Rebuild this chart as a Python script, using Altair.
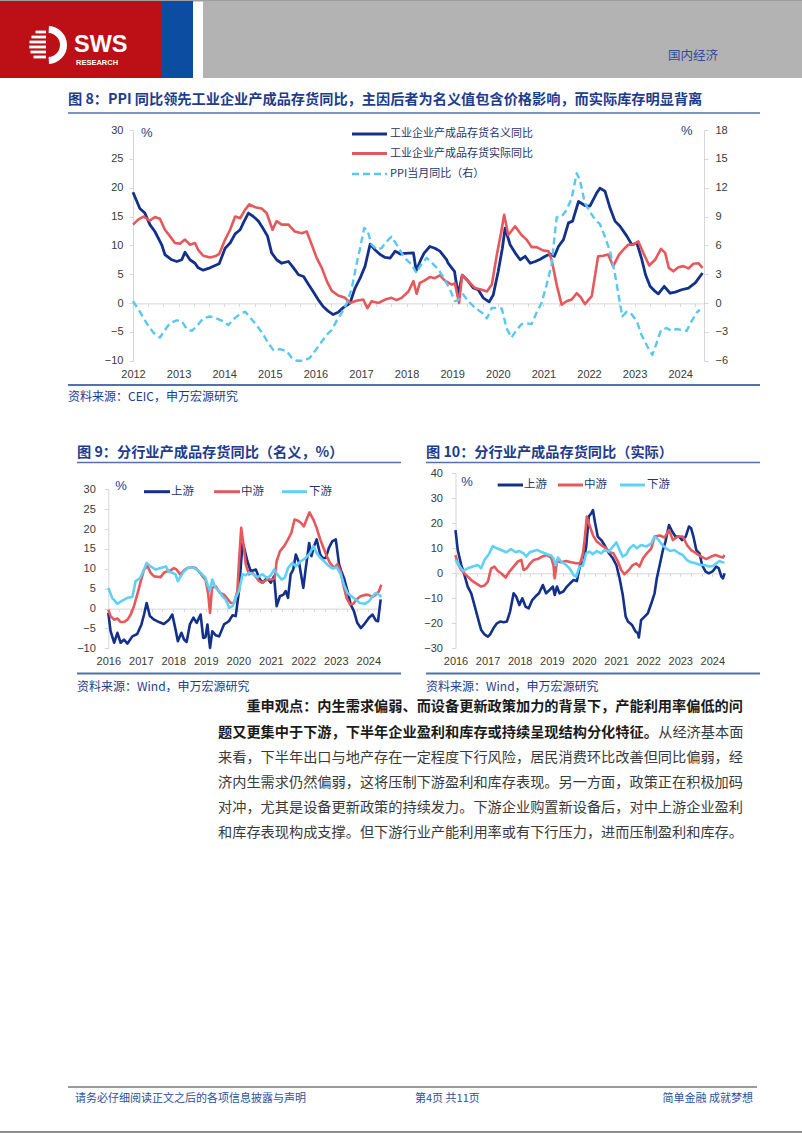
import altair as alt
import pandas as pd

W, H = 802, 1133
CJK = "Noto Sans CJK SC"
LAT = "Liberation Sans"

NAVY = "#13308A"
RED = "#E5585B"
SKY = "#5AC7F0"
CYAN = "#5FD0F6"
BLUE_TXT = "#1D3C8C"
LEG_TXT = "#24366E"
RULE_BLUE = "#5470AE"
AX = "#D6D6D6"
LBL = "#3A3A3A"

# ---------------- Figure 8 data (left axis: %, right axis: PPI %) ----------------
NOM_T = [2012.00, 2012.15, 2012.26, 2012.37, 2012.48, 2012.63, 2012.70, 2012.85, 2012.96,
         2013.07, 2013.14, 2013.25, 2013.36, 2013.43, 2013.54, 2013.69, 2013.80, 2013.89,
         2014.02, 2014.13, 2014.24, 2014.35, 2014.42, 2014.53, 2014.64, 2014.75, 2014.84, 2014.95,
         2015.04, 2015.15, 2015.26, 2015.41, 2015.52, 2015.63, 2015.74, 2015.85, 2015.95,
         2016.06, 2016.17, 2016.28, 2016.39, 2016.50, 2016.61, 2016.76, 2016.87, 2016.98,
         2017.09, 2017.20, 2017.31, 2017.42, 2017.53, 2017.64, 2017.75, 2017.86, 2017.96,
         2018.15, 2018.21, 2018.30, 2018.38, 2018.51, 2018.62, 2018.73, 2018.88, 2018.91, 2018.99,
         2019.05, 2019.13, 2019.22, 2019.35, 2019.46, 2019.57, 2019.68, 2019.81, 2019.90,
         2020.01, 2020.10, 2020.16, 2020.27, 2020.38, 2020.49, 2020.60, 2020.71, 2020.82, 2020.93,
         2021.04, 2021.15, 2021.24, 2021.33, 2021.44, 2021.55, 2021.64, 2021.77, 2021.91,
         2022.02, 2022.17, 2022.24, 2022.35, 2022.46, 2022.57, 2022.68, 2022.83, 2022.94,
         2023.05, 2023.15, 2023.24, 2023.34, 2023.45, 2023.52, 2023.65, 2023.78, 2023.89,
         2024.03, 2024.18, 2024.33, 2024.49]
NOM_V = [19.2, 16.4, 15.6, 13.6, 12.4, 10.1, 8.4, 7.5, 7.2,
         7.5, 8.8, 7.5, 6.9, 6.1, 5.7, 6.1, 6.5, 6.8,
         9.5, 10.4, 12.0, 12.7, 13.9, 15.6, 15.0, 14.2, 13.1, 11.6,
         8.7, 7.5, 6.9, 7.2, 6.1, 4.9, 4.6, 3.2, 2.0,
         0.6, -0.6, -1.4, -2.0, -1.6, -0.8, 0.0, 2.6, 4.3,
         6.4, 10.2, 9.2, 8.4, 7.9, 7.8, 9.0, 8.5, 8.6,
         8.7, 5.6, 7.3, 8.6, 9.8, 9.5, 9.0, 7.5, 6.9, 6.1,
         5.5, 1.4, 4.8, 3.8, 2.6, 2.3, 0.9, 0.2, 1.4,
         5.5, 9.5, 13.0, 10.1, 8.7, 7.5, 8.1, 6.9, 7.2, 7.6,
         8.1, 8.5, 8.1, 9.8, 11.0, 13.9, 14.2, 17.6, 16.9,
         16.8, 19.1, 19.9, 19.4, 16.5, 14.2, 13.3, 11.6, 10.1,
         10.4, 7.8, 4.9, 2.9, 2.0, 1.6, 2.9, 1.7, 1.9,
         2.3, 2.6, 3.5, 5.2]

REAL_T = [2012.00, 2012.12, 2012.23, 2012.37, 2012.48, 2012.59, 2012.70, 2012.81, 2012.92,
          2013.03, 2013.14, 2013.25, 2013.36, 2013.43, 2013.54, 2013.69, 2013.80, 2013.89,
          2014.02, 2014.13, 2014.24, 2014.35, 2014.46, 2014.55, 2014.68, 2014.82, 2014.93,
          2015.06, 2015.15, 2015.26, 2015.41, 2015.55, 2015.70, 2015.81, 2015.92,
          2016.03, 2016.14, 2016.25, 2016.36, 2016.50, 2016.65, 2016.76, 2016.90,
          2017.05, 2017.14, 2017.23, 2017.38, 2017.53, 2017.67, 2017.78, 2017.89,
          2018.04, 2018.15, 2018.22, 2018.29, 2018.37, 2018.51, 2018.62, 2018.73, 2018.84, 2018.99,
          2019.06, 2019.15, 2019.22, 2019.35, 2019.50, 2019.65, 2019.76, 2019.87, 2019.98,
          2020.07, 2020.14, 2020.23, 2020.38, 2020.52, 2020.63, 2020.74, 2020.85,
          2021.00, 2021.11, 2021.18, 2021.29, 2021.40, 2021.51, 2021.62, 2021.73, 2021.82, 2021.91,
          2022.06, 2022.20, 2022.31, 2022.42, 2022.53, 2022.66, 2022.75, 2022.86, 2022.97,
          2023.08, 2023.19, 2023.32, 2023.45, 2023.58, 2023.67, 2023.75, 2023.85, 2023.96,
          2024.07, 2024.18, 2024.29, 2024.40, 2024.49]
REAL_V = [13.6, 14.5, 15.0, 14.3, 14.9, 14.6, 12.7, 11.6, 10.4,
          10.3, 11.0, 10.1, 10.4, 9.2, 8.2, 7.9, 8.1, 8.5,
          11.0, 12.7, 15.0, 14.7, 16.2, 17.1, 16.6, 16.4, 15.6,
          12.7, 14.2, 13.6, 13.6, 12.4, 12.1, 12.4, 10.1,
          7.8, 6.1, 3.8, 2.1, 1.3, 0.9, 0.0, 0.4,
          0.6, -0.9, 0.3, 0.0, 0.6, 0.9, 0.5, 0.9,
          2.0, 3.8, 1.6, 3.5, 3.8, 4.5, 4.3, 4.8, 3.9, 3.2,
          3.4, 0.0, 4.9, 3.8, 2.6, 2.3, 2.0, 3.2, 8.4,
          12.1, 15.3, 11.8, 13.3, 11.8, 11.0, 9.7, 9.7,
          9.1, 9.0, 7.5, 3.2, -0.3, 0.3, 0.6, 1.7, 1.0, -0.2,
          1.2, 8.1, 8.2, 8.4, 6.4, 8.4, 9.2, 10.1, 10.1,
          10.7, 8.7, 6.5, 7.5, 9.4, 8.7, 6.1, 5.5, 6.2,
          6.4, 6.0, 6.8, 6.9, 6.1]

PPI_T = [2012.00, 2012.15, 2012.30, 2012.45, 2012.59, 2012.70, 2012.81, 2012.96,
         2013.07, 2013.18, 2013.29, 2013.40, 2013.54, 2013.69, 2013.83, 2013.98,
         2014.09, 2014.20, 2014.33, 2014.46, 2014.57, 2014.71, 2014.86, 2014.97,
         2015.08, 2015.22, 2015.37, 2015.48, 2015.59, 2015.74, 2015.88, 2015.99,
         2016.14, 2016.25, 2016.36, 2016.47, 2016.58, 2016.69, 2016.80, 2016.90, 2016.98,
         2017.07, 2017.14, 2017.23, 2017.34, 2017.45, 2017.56, 2017.67, 2017.78, 2017.89,
         2018.00, 2018.11, 2018.22, 2018.29, 2018.44, 2018.55, 2018.70, 2018.84, 2018.95,
         2019.06, 2019.13, 2019.24, 2019.35, 2019.50, 2019.65, 2019.76, 2019.87, 2019.98,
         2020.09, 2020.19, 2020.30, 2020.41, 2020.52, 2020.63, 2020.74, 2020.85, 2020.96,
         2021.07, 2021.18, 2021.29, 2021.40, 2021.51, 2021.62, 2021.73, 2021.80, 2021.91,
         2022.02, 2022.13, 2022.24, 2022.35, 2022.46, 2022.57, 2022.66, 2022.73, 2022.83, 2022.94,
         2023.05, 2023.15, 2023.30, 2023.39, 2023.48, 2023.58, 2023.70, 2023.81, 2023.92,
         2024.03, 2024.14, 2024.25, 2024.36, 2024.43]
PPI_V = [0.2, -0.9, -2.1, -3.1, -3.6, -2.8, -2.1, -1.8,
         -1.9, -2.7, -2.9, -2.4, -1.6, -1.4, -1.6, -1.9,
         -2.3, -1.7, -1.2, -0.9, -1.5, -2.3, -3.3, -4.2,
         -4.9, -4.8, -5.0, -5.7, -6.0, -6.0, -5.7, -5.0,
         -4.0, -3.3, -2.8, -1.8, -1.0, 0.0, 1.6, 4.0, 5.7,
         7.8, 7.6, 6.1, 5.6, 5.7, 6.4, 6.9, 6.1, 5.2,
         4.5, 4.0, 3.1, 3.8, 4.7, 4.2, 3.5, 2.4, 1.4,
         0.2, 0.3, 0.9, 0.2, -0.5, -1.0, -1.6, -0.5, -0.5,
         -0.6, -2.6, -3.6, -2.8, -2.2, -2.1, -2.2, -1.0, 0.0,
         1.9, 4.0, 8.9, 9.0, 9.7, 10.9, 13.5, 12.8, 10.4,
         9.5, 8.7, 8.2, 6.9, 5.4, 3.0, 0.5, -1.4, -0.9, -1.2,
         -1.9, -3.3, -4.7, -5.4, -4.2, -2.8, -2.6, -2.9, -2.7,
         -2.8, -2.9, -1.9, -1.0, -0.7]

# ---------------- Figure 9 data (nominal, %) ----------------
UP9_T = [2016.00, 2016.07, 2016.18, 2016.28, 2016.38, 2016.48, 2016.59, 2016.74, 2016.89,
         2017.02, 2017.10, 2017.18, 2017.28, 2017.41, 2017.56, 2017.71, 2017.87, 2017.97,
         2018.07, 2018.14, 2018.25, 2018.33, 2018.41, 2018.51, 2018.62, 2018.72, 2018.84, 2018.92, 2018.99,
         2019.05, 2019.13, 2019.20, 2019.30, 2019.41, 2019.56, 2019.71, 2019.82, 2019.92,
         2020.02, 2020.13, 2020.18, 2020.28, 2020.38, 2020.54, 2020.64, 2020.74, 2020.89,
         2021.00, 2021.10, 2021.18, 2021.28, 2021.39, 2021.46, 2021.53, 2021.61, 2021.69, 2021.77, 2021.87,
         2022.00, 2022.07, 2022.18, 2022.25, 2022.33, 2022.41, 2022.52, 2022.59, 2022.69, 2022.79, 2022.89,
         2023.00, 2023.10, 2023.17, 2023.25, 2023.36, 2023.46, 2023.56, 2023.66, 2023.77, 2023.87,
         2024.02, 2024.13, 2024.23, 2024.30, 2024.38]
UP9_V = [-1.1, -5.7, -8.6, -6.1, -8.6, -7.8, -8.8, -7.0, -6.4,
         -4.0, -1.5, 1.4, -1.9, -2.8, -3.4, -3.9, -2.8, -1.5,
         -5.3, -8.2, -6.1, -7.8, -8.4, -4.0, -2.3, -3.6, -1.5, -7.4, -7.2,
         -4.0, -9.9, -5.7, -6.7, -7.0, -4.0, -3.2, -1.7, -1.9,
         4.4, 16.5, 15.3, 11.9, 9.4, 9.8, 7.7, 6.5, 7.7,
         6.5, 8.1, 0.6, 3.1, 3.5, 4.4, 2.7, 8.6, 9.8, 13.6, 11.5,
         5.2, 9.8, 16.5, 13.2, 15.7, 17.4, 13.6, 12.7, 12.7, 15.3, 16.9,
         17.4, 11.1, 9.4, 7.7, 4.4, 1.0, -0.7, -3.6, -4.9, -4.0,
         -2.3, -1.5, -3.0, -3.2, 2.3]

MID9_T = [2016.00, 2016.07, 2016.18, 2016.28, 2016.38, 2016.48, 2016.59, 2016.69, 2016.79, 2016.89,
          2017.00, 2017.10, 2017.20, 2017.30, 2017.41, 2017.51, 2017.61, 2017.71, 2017.82, 2017.92,
          2018.02, 2018.10, 2018.21, 2018.33, 2018.43, 2018.56, 2018.69, 2018.82, 2018.92, 2018.99,
          2019.07, 2019.13, 2019.19, 2019.30, 2019.44, 2019.56, 2019.66, 2019.77, 2019.87, 2019.97,
          2020.02, 2020.09, 2020.16, 2020.23, 2020.33, 2020.43, 2020.53, 2020.64, 2020.74, 2020.89,
          2021.05, 2021.12, 2021.18, 2021.28, 2021.41, 2021.53, 2021.63, 2021.73, 2021.84, 2021.92,
          2022.02, 2022.10, 2022.19, 2022.31, 2022.41, 2022.52, 2022.62, 2022.72, 2022.82, 2022.95,
          2023.05, 2023.15, 2023.23, 2023.33, 2023.44, 2023.54, 2023.64, 2023.76, 2023.92,
          2024.02, 2024.13, 2024.23, 2024.33, 2024.40]
MID9_V = [-0.3, -1.9, -2.8, -2.5, -3.4, -3.4, -2.8, -1.5, 0.6, 3.5,
          6.9, 9.8, 10.8, 9.0, 8.1, 8.0, 7.9, 9.0, 9.4, 9.6,
          10.2, 9.8, 8.6, 9.6, 10.2, 10.4, 10.2, 9.0, 7.9, 7.3,
          3.9, -1.1, 5.2, 5.6, 3.9, 3.5, 2.5, 1.4, 1.4, 4.4,
          11.5, 20.3, 16.1, 11.1, 8.6, 9.0, 8.1, 6.9, 6.5, 7.3,
          7.3, 7.7, 11.9, 14.4, 15.7, 17.4, 19.0, 22.4, 22.1, 21.6,
          20.7, 22.4, 24.2, 22.4, 20.3, 17.4, 15.3, 13.2, 11.5, 10.2,
          11.2, 9.4, 6.0, 2.7, 1.0, 1.2, 2.3, 3.1, 3.5,
          3.4, 2.9, 3.5, 4.4, 6.0]

DOWN9_T = [2016.00, 2016.12, 2016.28, 2016.43, 2016.59, 2016.74, 2016.84, 2016.98,
           2017.08, 2017.18, 2017.30, 2017.46, 2017.61, 2017.77, 2017.87, 2017.97,
           2018.07, 2018.14, 2018.23, 2018.33, 2018.48, 2018.64, 2018.79, 2018.89, 2018.99,
           2019.07, 2019.13, 2019.20, 2019.30, 2019.41, 2019.51, 2019.61, 2019.72, 2019.82, 2019.92,
           2020.02, 2020.13, 2020.23, 2020.33, 2020.46, 2020.59, 2020.74, 2020.89,
           2021.00, 2021.10, 2021.20, 2021.33, 2021.43, 2021.53, 2021.66, 2021.77, 2021.92,
           2022.07, 2022.21, 2022.31, 2022.41, 2022.53, 2022.64, 2022.76, 2022.89,
           2023.03, 2023.15, 2023.25, 2023.36, 2023.48, 2023.61, 2023.74, 2023.89,
           2024.02, 2024.13, 2024.23, 2024.33, 2024.40]
DOWN9_V = [5.2, 2.7, 1.2, 2.0, 2.7, 2.9, 6.9, 7.7,
           9.4, 11.5, 10.6, 9.8, 10.2, 10.6, 9.2, 9.0,
           8.6, 6.9, 8.1, 9.4, 10.4, 10.2, 9.4, 8.6, 7.7,
           5.6, 4.4, 7.3, 5.2, 4.4, 3.1, 2.3, 0.2, 0.6, 2.7,
           4.4, 8.6, 8.4, 9.0, 8.6, 7.9, 8.6, 7.7,
           8.4, 9.8, 8.6, 7.3, 7.7, 10.2, 11.5, 10.6, 11.9,
           12.7, 14.0, 15.7, 14.0, 12.7, 11.9, 10.9, 10.1,
           10.4, 8.6, 6.0, 3.9, 3.1, 2.3, 1.4, 1.2,
           1.8, 3.1, 3.9, 3.5, 2.9]

# ---------------- Figure 10 data (real, %) ----------------
UP10_T = [2016.00, 2016.07, 2016.18, 2016.28, 2016.38, 2016.49, 2016.59, 2016.70, 2016.80, 2016.90,
          2017.01, 2017.08, 2017.18, 2017.29, 2017.39, 2017.50, 2017.60, 2017.70, 2017.81, 2017.89, 2017.99,
          2018.08, 2018.18, 2018.28, 2018.39, 2018.49, 2018.60, 2018.72, 2018.82, 2018.93,
          2019.03, 2019.09, 2019.16, 2019.24, 2019.36, 2019.47, 2019.57, 2019.68, 2019.78, 2019.88, 2019.99,
          2020.07, 2020.15, 2020.23, 2020.28, 2020.35, 2020.43, 2020.54, 2020.64, 2020.78, 2020.90,
          2021.01, 2021.11, 2021.21, 2021.30, 2021.37, 2021.50, 2021.61, 2021.68, 2021.71, 2021.78, 2021.89, 2021.99,
          2022.10, 2022.20, 2022.27, 2022.36, 2022.46, 2022.54, 2022.65, 2022.75, 2022.85, 2022.96,
          2023.06, 2023.17, 2023.27, 2023.34, 2023.41, 2023.50, 2023.60, 2023.68, 2023.79, 2023.89,
          2024.02, 2024.12, 2024.20, 2024.28, 2024.33, 2024.38]
UP10_V = [17.3, 9.3, 3.3, -0.7, -5.3, -8.0, -12.7, -18.0, -22.7, -24.4,
          -25.3, -24.4, -22.0, -20.0, -19.3, -19.6, -19.3, -15.3, -8.0, -9.3, -12.7,
          -10.0, -13.3, -14.0, -10.7, -9.3, -8.0, -4.7, -8.0, -6.7,
          -5.3, -8.7, -5.3, -8.0, -7.3, -5.3, -4.0, -2.7, -3.1, 3.3, 4.7,
          10.7, 22.7, 24.0, 25.3, 20.0, 14.7, 13.3, 11.3, 8.0, 6.0,
          3.3, -2.0, -8.7, -17.3, -19.3, -20.7, -23.3, -24.0, -25.7, -18.7, -17.3, -16.0,
          -12.0, -8.0, -2.0, 3.3, 9.3, 12.7, 19.3, 16.7, 14.7, 14.7,
          13.3, 14.7, 18.7, 18.0, 14.7, 9.3, 8.0, 3.3, 0.7, 0.0,
          0.9, 2.7, 2.0, -1.3, -2.0, 0.0]

MID10_T = [2016.00, 2016.07, 2016.18, 2016.33, 2016.49, 2016.64, 2016.80, 2016.90,
           2017.01, 2017.11, 2017.21, 2017.32, 2017.42, 2017.56, 2017.68, 2017.81, 2017.94,
           2018.05, 2018.12, 2018.22, 2018.33, 2018.43, 2018.56, 2018.70, 2018.85, 2018.98,
           2019.05, 2019.09, 2019.16, 2019.29, 2019.45, 2019.60, 2019.76, 2019.88, 2019.97,
           2020.02, 2020.09, 2020.17, 2020.28, 2020.40, 2020.54, 2020.69, 2020.80, 2020.92,
           2021.06, 2021.16, 2021.26, 2021.40, 2021.52, 2021.63, 2021.73, 2021.84, 2021.96,
           2022.10, 2022.20, 2022.36, 2022.51, 2022.65, 2022.77, 2022.93,
           2023.08, 2023.21, 2023.34, 2023.50, 2023.65, 2023.81, 2023.96,
           2024.10, 2024.22, 2024.33, 2024.38]
MID10_V = [7.3, 4.0, 1.3, -0.7, -2.7, -4.0, -5.3, -4.9,
           -3.3, 2.0, 2.7, 0.9, 0.0, -1.7, 0.7, 2.7, 4.7,
           5.3, 1.3, 2.0, 4.0, 5.3, 5.7, 6.7, 7.3, 6.3,
           3.3, -2.0, 4.7, 4.4, 4.9, 4.4, 4.0, 4.0, 8.0,
           13.3, 22.7, 19.3, 15.3, 12.7, 11.3, 10.0, 8.4, 8.0,
           4.7, 1.3, -0.4, 1.3, 3.3, 4.0, 2.7, 6.0, 8.0,
           10.0, 14.7, 15.1, 14.3, 17.3, 13.3, 14.7,
           14.7, 11.3, 9.3, 8.0, 6.7, 5.7, 6.7,
           7.3, 6.7, 6.3, 7.3]

DOWN10_T = [2016.00, 2016.07, 2016.23, 2016.38, 2016.54, 2016.70, 2016.80, 2016.90,
            2017.04, 2017.16, 2017.29, 2017.42, 2017.58, 2017.73, 2017.87, 2017.99,
            2018.12, 2018.20, 2018.31, 2018.43, 2018.56, 2018.70, 2018.85, 2018.98,
            2019.05, 2019.12, 2019.19, 2019.29, 2019.45, 2019.55, 2019.68, 2019.76, 2019.86, 2019.97,
            2020.07, 2020.17, 2020.28, 2020.40, 2020.54, 2020.64, 2020.78, 2020.90,
            2021.01, 2021.11, 2021.21, 2021.32, 2021.42, 2021.55, 2021.65, 2021.78, 2021.94,
            2022.10, 2022.20, 2022.30, 2022.44, 2022.56, 2022.69, 2022.82, 2022.96,
            2023.08, 2023.21, 2023.34, 2023.48, 2023.62, 2023.76, 2023.89,
            2024.02, 2024.12, 2024.22, 2024.31, 2024.38]
DOWN10_V = [5.3, 4.0, 0.9, 2.0, 2.7, 3.3, 2.0, 5.3,
            7.6, 10.9, 10.0, 9.3, 8.4, 9.7, 8.4, 8.9,
            8.0, 6.7, 8.4, 8.9, 9.3, 8.4, 7.6, 7.1,
            6.0, 3.3, 6.3, 4.7, 3.3, 2.0, -0.7, -1.3, 2.7, 3.1,
            8.0, 8.7, 7.6, 8.9, 8.0, 9.3, 8.7, 10.7,
            12.4, 9.3, 6.7, 7.6, 10.0, 11.3, 10.0, 11.3, 10.7,
            12.0, 14.7, 13.7, 11.3, 10.0, 8.9, 9.3, 8.0,
            7.3, 5.3, 4.4, 4.0, 3.3, 3.3, 2.7,
            2.9, 4.0, 4.9, 4.4, 4.3]

# axis tick labels
YEARS8 = list(range(2012, 2025))
YEARS9 = list(range(2016, 2025))
Y8_TICKS = [-10, -5, 0, 5, 10, 15, 20, 25, 30]
Y8R_TICKS = [-6, -3, 0, 3, 6, 9, 12, 15, 18]
Y9_TICKS = [-10, -5, 0, 5, 10, 15, 20, 25, 30]
Y10_TICKS = [-30, -20, -10, 0, 10, 20, 30, 40]
MINOR8 = [2012 + k / 3 for k in range(0, 38)]
MINOR9 = [2016 + k / 3 for k in range(0, 26)]

LEGEND8 = ["工业企业产成品存货名义同比", "工业企业产成品存货实际同比", "PPI当月同比（右）"]
LEGEND_IND = ["上游", "中游", "下游"]

PARA = [
    "重申观点：内生需求偏弱、而设备更新政策加力的背景下，产能利用率偏低的问",
    "题又更集中于下游，下半年企业盈利和库存或持续呈现结构分化特征。",
    "从经济基本面",
    "来看，下半年出口与地产存在一定程度下行风险，居民消费环比改善但同比偏弱，经",
    "济内生需求仍然偏弱，这将压制下游盈利和库存表现。另一方面，政策正在积极加码",
    "对冲，尤其是设备更新政策的持续发力。下游企业购置新设备后，对中上游企业盈利",
    "和库存表现构成支撑。但下游行业产能利用率或有下行压力，进而压制盈利和库存。",
]


# ---------------- helpers ----------------
def one():
    return pd.DataFrame({"k": [0]})


def rect(x, x2, y, y2, color):
    return alt.Chart(one()).mark_rect(color=color).encode(
        x=alt.value(x), x2=alt.value(x2), y=alt.value(y), y2=alt.value(y2))


def hrule(x, x2, y, color, width=1.0, dash=None):
    kw = dict(color=color, strokeWidth=width)
    if dash is not None:
        kw["strokeDash"] = dash
    return alt.Chart(one()).mark_rule(**kw).encode(
        x=alt.value(x), x2=alt.value(x2), y=alt.value(y))


def text(s, x, y, size=12, color="#333333", weight="normal", align="left",
         font=CJK, baseline="middle"):
    return alt.Chart(pd.DataFrame({"s": [s]})).mark_text(
        align=align, baseline=baseline, fontSize=size, font=font,
        fontWeight=weight, color=color).encode(
        x=alt.value(x), y=alt.value(y), text="s:N")


def sc(dom, rng):
    return alt.Scale(domain=dom, range=rng, nice=False, zero=False)


def series(t, v, xs, ys, color, width=2.6, dash=None, xaxis=None, yaxis=None, opacity=1.0):
    kw = dict(color=color, strokeWidth=width, strokeJoin="round", strokeOpacity=opacity)
    if dash is not None:
        kw["strokeDash"] = dash
    df = pd.DataFrame({"t": t, "v": v})
    return alt.Chart(df).mark_line(**kw).encode(
        x=alt.X("t:Q", scale=xs, axis=xaxis),
        y=alt.Y("v:Q", scale=ys, axis=yaxis))


def yaxis(orient, xpix, values, pad=6):
    off = -xpix if orient == "left" else xpix - W
    return alt.Axis(orient=orient, offset=off, values=values, title=None, grid=False,
                    domainColor=AX, domainWidth=1, tickColor=AX, tickWidth=1, tickSize=4,
                    labelFont=LAT, labelFontSize=11, labelColor=LBL, labelPadding=pad,
                    labelFlush=False, labelOverlap=False)


def xlabels(ypix, values, pad=7):
    return alt.Axis(orient="bottom", offset=ypix - H, values=values, format="d", title=None,
                    grid=False, domain=False, ticks=False, tickSize=0, labelPadding=pad,
                    labelFlush=False, labelOverlap=False, labelFont=LAT, labelFontSize=11,
                    labelColor=LBL)


def xzero(ypix, values):
    return alt.Axis(orient="bottom", offset=ypix - H, values=values, labels=False, title=None,
                    grid=False, domainColor=AX, domainWidth=1, tickColor=AX, tickSize=3)


layers = []

# ---------------- page header ----------------
layers += [
    rect(0, 802, 0, 1.5, "#9E9E9E"),
    rect(0, 162, 1, 78, "#BD0F16"),
    rect(162, 193, 1, 78, "#0C4DA2"),
    rect(203, 802, 1, 78, "#B3B3B3"),
    text("国内经济", 668, 56, size=12.5, color="#2C4C9C"),
]
# logo
layers += [
    alt.Chart(one()).mark_arc(color="white", radius=19, radius2=12, theta=0.05, theta2=3.09).encode(
        x=alt.value(48), y=alt.value(45)),
]
for dy, half in [(-13, 12.5), (-8, 16.5), (-3, 18.5), (2, 18.8), (7, 17.5), (12, 14.5)]:
    layers.append(rect(48 - half, 46, 45 + dy - 1.4, 45 + dy + 1.4, "white"))
layers += [
    text("SWS", 74, 52, size=23.5, color="white", weight="bold", font=LAT, baseline="alphabetic"),
    text("RESEARCH", 76, 64.5, size=7.5, color="white", weight="bold", font=LAT, baseline="alphabetic"),
]

# ---------------- figure 8 ----------------
layers += [
    text("图 8：PPI 同比领先工业企业产成品存货同比，主因后者为名义值包含价格影响，而实际库存明显背离",
         68, 100, size=14.2, color=BLUE_TXT, weight="bold"),
    hrule(68, 760, 113, RULE_BLUE, 1.6),
]
X8 = sc([2012, 2024.5], [133, 703])
Y8 = sc([-10, 30], [360.7, 130])
Y8R = sc([-6, 18], [360.7, 130])
layers += [
    series(NOM_T, NOM_V, X8, Y8, NAVY, opacity=0.0, xaxis=xzero(303.4, MINOR8),
           yaxis=yaxis("left", 133, Y8_TICKS, pad=6)),
    series(NOM_T, NOM_V, X8, Y8, NAVY, opacity=0.0, xaxis=xlabels(360.7, YEARS8, pad=8)),
    series(NOM_T, NOM_V, X8, Y8, NAVY, width=2.8),
    series(REAL_T, REAL_V, X8, Y8, RED, width=2.6),
    series(PPI_T, PPI_V, X8, Y8R, SKY, width=2.4, dash=[7, 4],
           yaxis=yaxis("right", 704, Y8R_TICKS, pad=7)),
    text("%", 141, 133, size=13, color=BLUE_TXT, font=LAT),
    text("%", 681, 131, size=13, color=BLUE_TXT, font=LAT),
    hrule(352, 387, 134, NAVY, 3),
    hrule(352, 387, 153.5, RED, 3),
    hrule(352, 387, 174, SKY, 2.6, dash=[7, 4]),
    text(LEGEND8[0], 390, 134, size=11, color=LEG_TXT),
    text(LEGEND8[1], 390, 153.5, size=11, color=LEG_TXT),
    text(LEGEND8[2], 390, 174, size=11, color=LEG_TXT),
    hrule(68, 760, 385, RULE_BLUE, 2),
    text("资料来源：CEIC，申万宏源研究", 68, 397, size=12, color=BLUE_TXT),
]

# ---------------- figure 9 ----------------
X9 = sc([2016, 2024.4], [108.3, 381.3])
Y9 = sc([-10, 30], [648.3, 489.3])
layers += [
    text("图 9：分行业产成品存货同比（名义，%）", 77, 453, size=14.2, color=BLUE_TXT, weight="bold"),
    hrule(77, 401, 462.5, RULE_BLUE, 1.6),
    series(UP9_T, UP9_V, X9, Y9, NAVY, opacity=0.0, xaxis=xzero(608.6, MINOR9),
           yaxis=yaxis("left", 108.3, Y9_TICKS, pad=9)),
    series(UP9_T, UP9_V, X9, Y9, NAVY, opacity=0.0, xaxis=xlabels(648.3, YEARS9, pad=7)),
    series(UP9_T, UP9_V, X9, Y9, NAVY, width=2.6),
    series(MID9_T, MID9_V, X9, Y9, RED, width=2.6),
    series(DOWN9_T, DOWN9_V, X9, Y9, CYAN, width=2.6),
    text("%", 121, 486, size=13, color=BLUE_TXT, font=LAT, align="center"),
    hrule(144, 170, 491.7, NAVY, 3),
    hrule(214, 240, 491.7, RED, 3),
    hrule(282, 307, 491.7, CYAN, 3),
    text(LEGEND_IND[0], 171, 491.7, size=11.5, color=LEG_TXT),
    text(LEGEND_IND[1], 241, 491.7, size=11.5, color=LEG_TXT),
    text(LEGEND_IND[2], 309, 491.7, size=11.5, color=LEG_TXT),
    hrule(77, 401, 673.5, RULE_BLUE, 2),
    text("资料来源：Wind，申万宏源研究", 77, 687, size=12, color=BLUE_TXT),
]

# ---------------- figure 10 ----------------
X10 = sc([2016, 2024.4], [455.5, 725.2])
Y10 = sc([-30, 40], [648.3, 473.3])
layers += [
    text("图 10：分行业产成品存货同比（实际）", 426, 453, size=14.2, color=BLUE_TXT, weight="bold"),
    hrule(426, 760, 462.5, RULE_BLUE, 1.6),
    series(UP10_T, UP10_V, X10, Y10, NAVY, opacity=0.0, xaxis=xzero(573.3, MINOR9),
           yaxis=yaxis("left", 455.5, Y10_TICKS, pad=9)),
    series(UP10_T, UP10_V, X10, Y10, NAVY, opacity=0.0, xaxis=xlabels(648.3, YEARS9, pad=7)),
    series(UP10_T, UP10_V, X10, Y10, NAVY, width=2.6),
    series(MID10_T, MID10_V, X10, Y10, RED, width=2.6),
    series(DOWN10_T, DOWN10_V, X10, Y10, CYAN, width=2.6),
    text("%", 467, 482, size=13, color=BLUE_TXT, font=LAT, align="center"),
    hrule(497.7, 523, 485, NAVY, 3),
    hrule(558, 583, 485, RED, 3),
    hrule(620, 645, 485, CYAN, 3),
    text(LEGEND_IND[0], 524, 485, size=11.5, color=LEG_TXT),
    text(LEGEND_IND[1], 584, 485, size=11.5, color=LEG_TXT),
    text(LEGEND_IND[2], 647, 485, size=11.5, color=LEG_TXT),
    hrule(426, 760, 673.5, RULE_BLUE, 2),
    text("资料来源：Wind，申万宏源研究", 426, 687, size=12, color=BLUE_TXT),
]

# ---------------- paragraph ----------------
FS = 14.2
X0 = 218
LY = [707, 732.5, 757.5, 782.5, 807.5, 833]
layers += [
    text(PARA[0], X0 + 2 * FS, LY[0], size=FS, color="#1A1A1A", weight="bold"),
    text(PARA[1], X0, LY[1], size=FS, color="#1A1A1A", weight="bold"),
    text(PARA[2], X0 + 31 * FS, LY[1], size=FS, color="#3A3A3A"),
    text(PARA[3], X0, LY[2], size=FS, color="#3A3A3A"),
    text(PARA[4], X0, LY[3], size=FS, color="#3A3A3A"),
    text(PARA[5], X0, LY[4], size=FS, color="#3A3A3A"),
    text(PARA[6], X0, LY[5], size=FS, color="#3A3A3A"),
]

# ---------------- footer ----------------
layers += [
    hrule(68, 757, 1087, "#9A9A9A", 2),
    text("请务必仔细阅读正文之后的各项信息披露与声明", 75, 1099, size=11, color="#2B4F9E"),
    text("第4页 共11页", 415, 1099, size=11, color="#2B4F9E"),
    text("简单金融 成就梦想", 753, 1099, size=11, color="#2B4F9E", align="right"),
    hrule(0, 802, 1132, "#8C8C8C", 2),
]

chart = alt.layer(*layers).resolve_scale(
    x="independent", y="independent"
).properties(
    width=W, height=H, padding=0,
    autosize=alt.AutoSizeParams(type="none"),
    background="white",
).configure_view(stroke=None)

chart.save("out.html", embed_options={"renderer": "svg", "actions": False})
